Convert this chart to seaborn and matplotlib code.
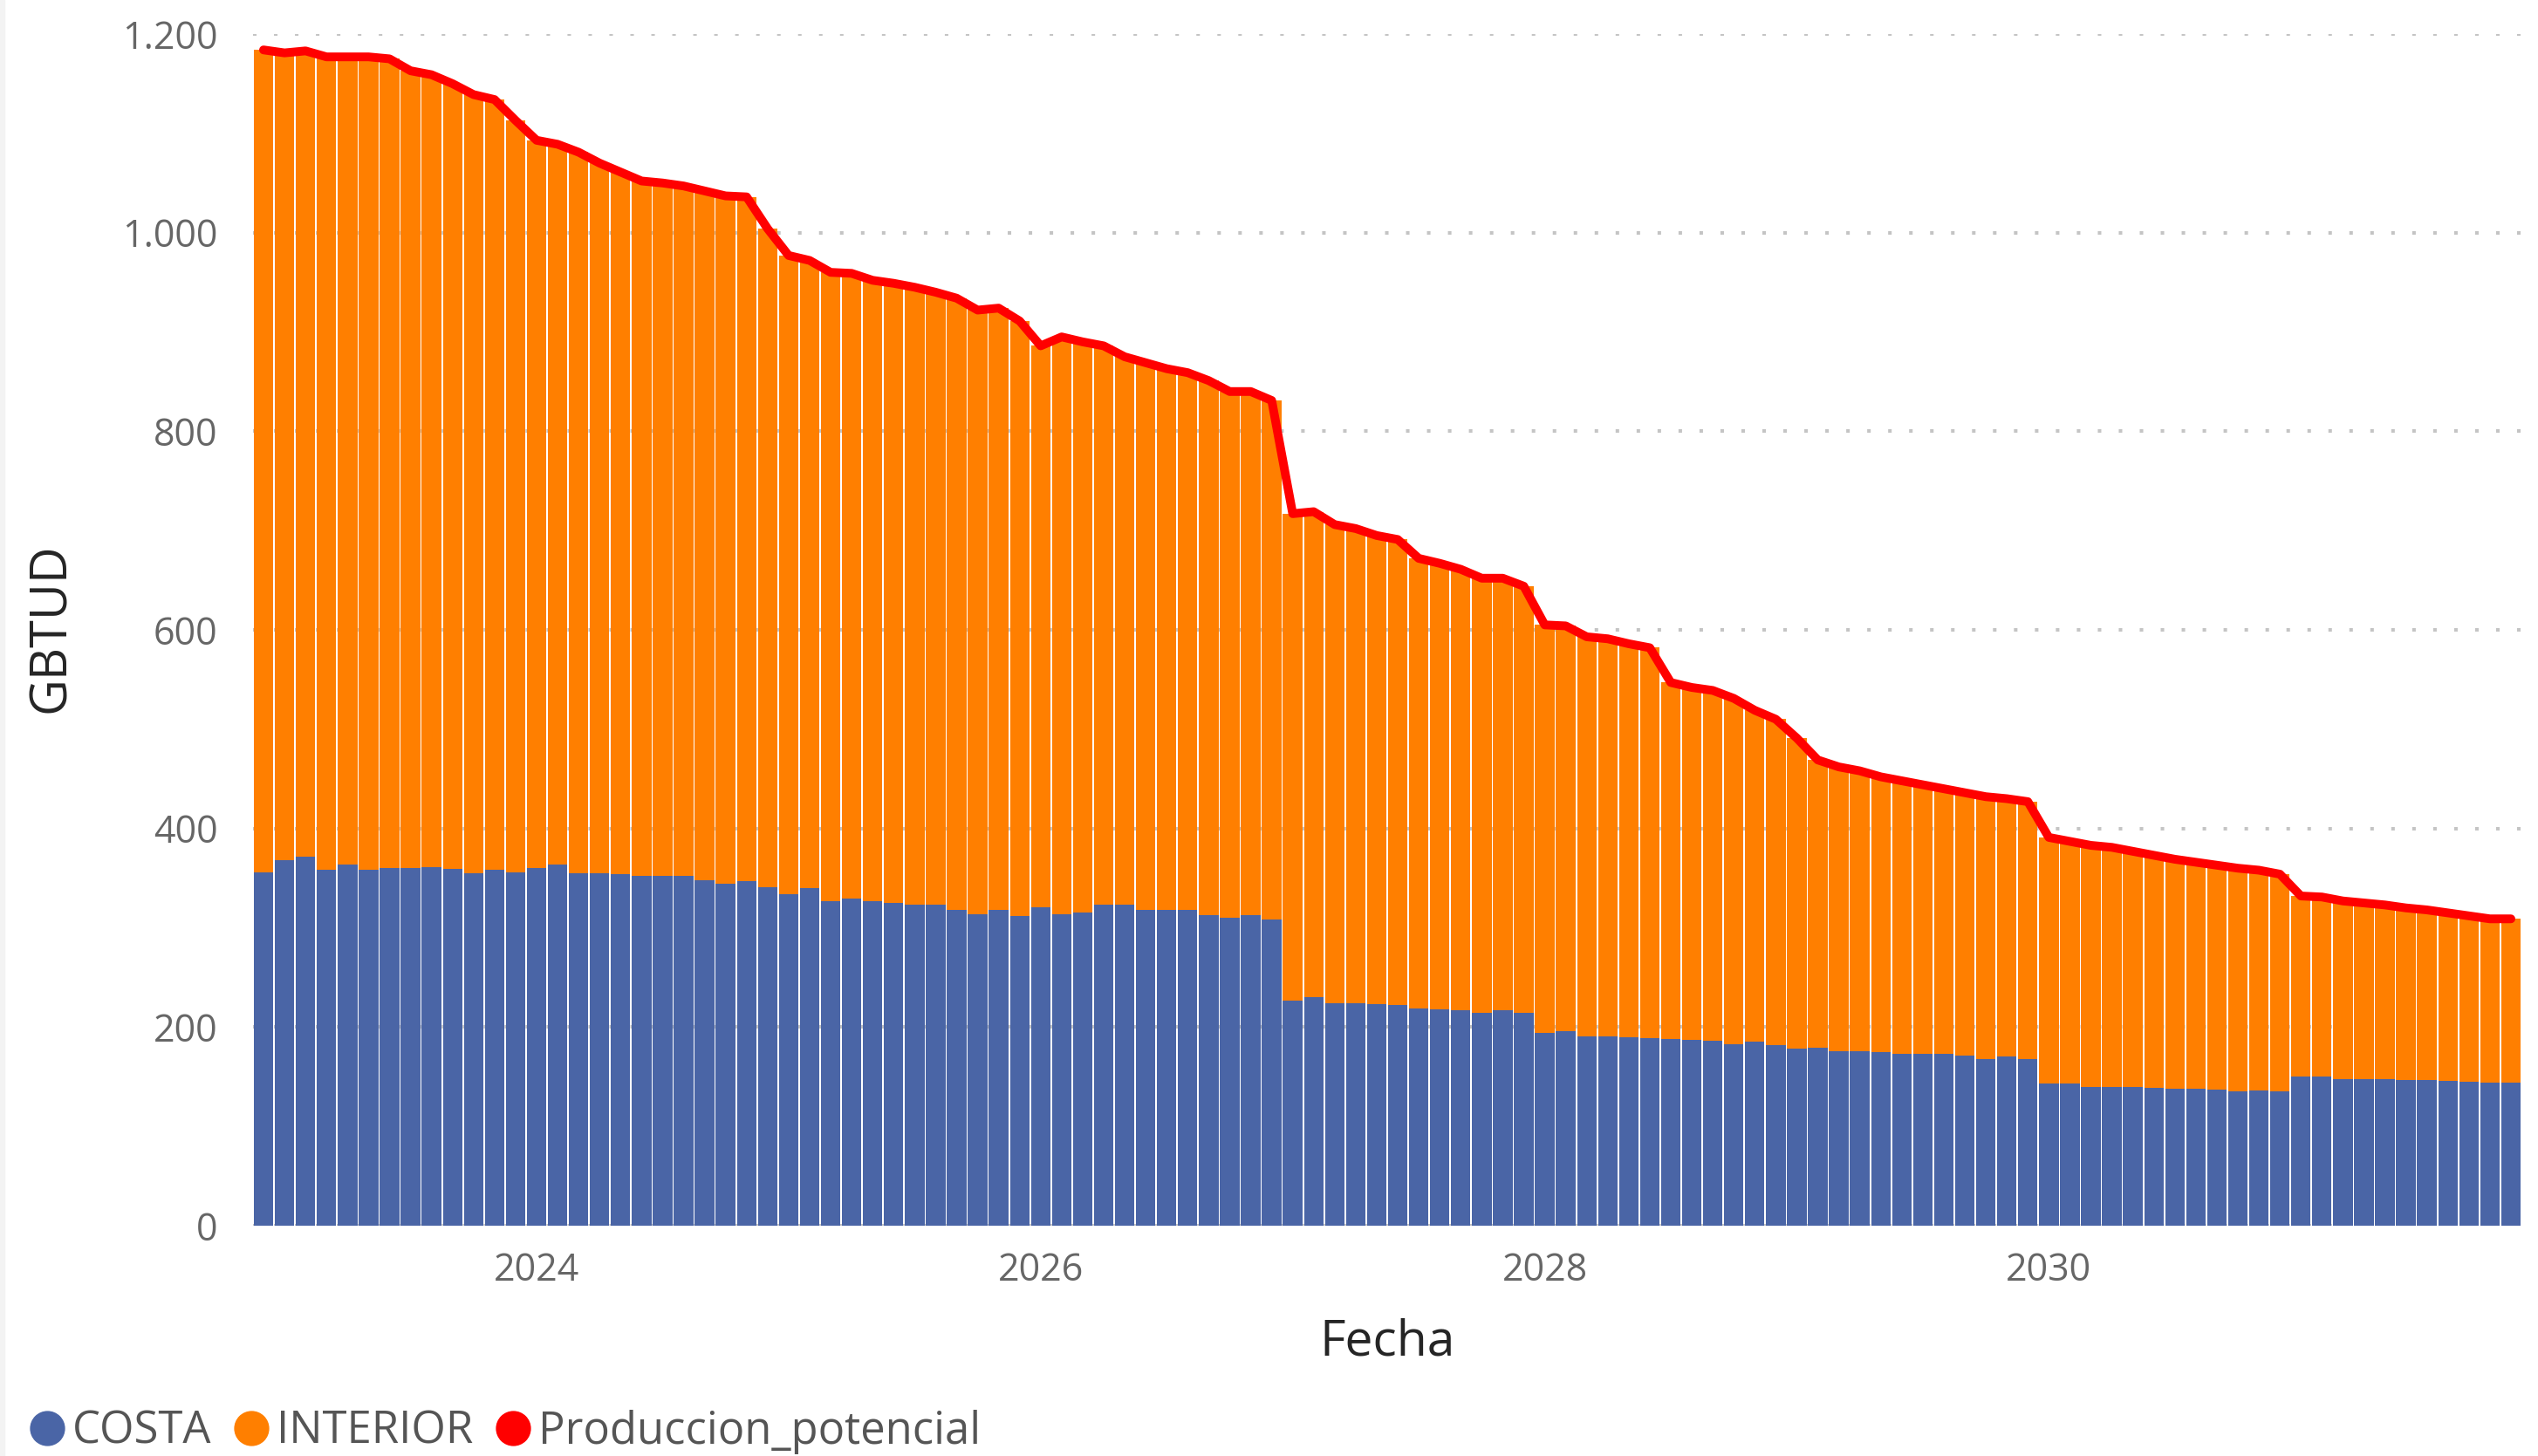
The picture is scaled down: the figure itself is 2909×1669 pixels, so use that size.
import numpy as np
import pandas as pd
import matplotlib
matplotlib.use("Agg")
import matplotlib.pyplot as plt
from matplotlib.lines import Line2D
from matplotlib.patches import Rectangle
import seaborn as sns

# ---------------- data ----------------
fechas = pd.date_range("2022-12-01", periods=108, freq="MS")

costa = [356, 368, 372, 358, 364, 358, 360, 360, 361, 359, 355, 358,
         356, 360, 364, 355, 355, 354, 352, 352, 352, 348, 344, 347,
         341, 334, 340, 327, 329, 327, 325, 323, 323, 318, 314, 318,
         312, 321, 314, 315, 323, 323, 318, 318, 318, 313, 310, 313,
         308, 227, 230, 224, 224, 223, 222, 219, 218, 217, 214, 217,
         214, 194, 196, 191, 191, 190, 189, 188, 187, 186, 183, 185,
         182, 178, 179, 176, 176, 175, 173, 173, 173, 171, 168, 170,
         168, 143, 143, 140, 140, 140, 139, 138, 138, 137, 135, 136,
         135, 150, 150, 148, 148, 148, 147, 147, 146, 145, 144, 144]

interior = [828, 813, 811, 819, 813, 819, 815, 803, 798, 791, 784, 776,
            757, 733, 725, 726, 715, 707, 700, 698, 695, 694, 693, 689,
            663, 643, 632, 633, 630, 625, 624, 622, 617, 616, 608, 606,
            599, 565, 581, 575, 563, 552, 551, 545, 541, 538, 530, 527,
            523, 490, 489, 482, 478, 472, 469, 453, 449, 444, 438, 435,
            430, 411, 408, 402, 400, 396, 393, 359, 355, 353, 348, 334,
            328, 313, 290, 286, 282, 277, 275, 271, 267, 265, 264, 260,
            259, 248, 244, 243, 241, 237, 234, 231, 228, 226, 225, 222,
            219, 182, 181, 179, 177, 175, 173, 171, 169, 167, 165, 165]

produccion_potencial = [1184, 1181, 1183, 1177, 1177, 1177, 1175, 1163, 1159, 1150, 1139, 1134,
                        1113, 1093, 1089, 1081, 1070, 1061, 1052, 1050, 1047, 1042, 1037, 1036,
                        1004, 977, 972, 960, 959, 952, 949, 945, 940, 934, 922, 924,
                        911, 886, 895, 890, 886, 875, 869, 863, 859, 851, 840, 840,
                        831, 717, 719, 706, 702, 695, 691, 672, 667, 661, 652, 652,
                        644, 605, 604, 593, 591, 586, 582, 547, 542, 539, 531, 519,
                        510, 491, 469, 462, 458, 452, 448, 444, 440, 436, 432, 430,
                        427, 391, 387, 383, 381, 377, 373, 369, 366, 363, 360, 358,
                        354, 332, 331, 327, 325, 323, 320, 318, 315, 312, 309, 309]

year_ticks = ["2024", "2026", "2028", "2030"]
y_ticks = [0, 200, 400, 600, 800, 1000, 1200]
y_tick_labels = ["0", "200", "400", "600", "800", "1.000", "1.200"]
series_names = ["COSTA", "INTERIOR", "Produccion_potencial"]
colors = ["#4A65A6", "#FF7F00", "#FF0000"]

# ---------------- frame ----------------
df = pd.DataFrame({
    "fecha": fechas,
    "pos": np.arange(len(fechas)),
    "COSTA": costa,
    "INTERIOR": interior,
    "Produccion_potencial": produccion_potencial,
})
df["stack_top"] = df["COSTA"] + df["INTERIOR"]

sns.set_theme(style="white")
plt.rcParams["font.family"] = ["Open Sans", "DejaVu Sans"]
plt.rcParams["lines.scale_dashes"] = False

W, H = 2909, 1669
fig = plt.figure(figsize=(W / 100, H / 100), dpi=100)
ax = fig.add_axes([290 / W, 1 - 1405 / H, 2600 / W, 1366 / H])

sns.barplot(data=df, x="pos", y="stack_top", native_scale=True, color=colors[1],
            width=0.93, saturation=1, ax=ax, zorder=2, linewidth=0)
sns.barplot(data=df, x="pos", y="COSTA", native_scale=True, color=colors[0],
            width=0.93, saturation=1, ax=ax, zorder=3, linewidth=0)
sns.lineplot(data=df, x="pos", y="Produccion_potencial", color=colors[2], lw=7.2,
             ax=ax, zorder=4, solid_joinstyle="round", solid_capstyle="round")

ax.set_xlim(-0.5, len(fechas) - 0.5)
ax.set_ylim(0, 1200)

# year ticks at January of each labelled year
tick_pos = [int(np.where((df["fecha"].dt.year == int(y)) & (df["fecha"].dt.month == 1))[0][0])
            for y in year_ticks]
ax.set_xticks(tick_pos)
ax.set_xticklabels(year_ticks)
ax.set_yticks(y_ticks)
ax.set_yticklabels(y_tick_labels)
ax.tick_params(axis="both", length=0, labelsize=31, labelcolor="#666666")
ax.tick_params(axis="y", pad=29)
ax.tick_params(axis="x", pad=21)

ax.set_axisbelow(True)
ax.yaxis.grid(True, color="#c4c4c4", linewidth=2.9, linestyle=(0, (2.9, 14.4)),
              dash_capstyle="butt")
ax.xaxis.grid(False)
for s in ax.spines.values():
    s.set_visible(False)

ax.set_xlabel("Fecha", fontsize=41, color="#252525", va="center")
ax.set_ylabel("GBTUD", fontsize=41.5, color="#252525", va="center")
ax.xaxis.set_label_coords(0.5, (1405 - 1539) / 1366)
ax.yaxis.set_label_coords((59 - 290) / 2600, (1405 - 720) / 1366)

handles = [Line2D([], [], marker="o", ls="", color=c, markersize=28) for c in colors]
fig.legend(handles, series_names, loc="center left", bbox_to_anchor=(0.0102, 1 - 1641 / H),
           ncol=3, frameon=False, fontsize=36.5, handlelength=0.95, handletextpad=0.1,
           columnspacing=0.42, borderpad=0, borderaxespad=0, labelcolor="#555555")

fig.add_artist(Rectangle((0, 0), 5 / W, 1, transform=fig.transFigure, color="#f3f3f3", zorder=0))

fig.savefig("out.png", dpi=100)
